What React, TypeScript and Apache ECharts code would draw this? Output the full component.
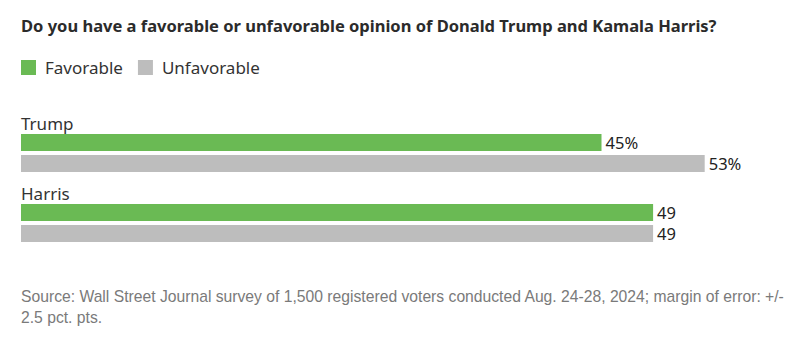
import React, { useEffect, useRef } from "react";
import * as echarts from "echarts";

const candidates = ["Trump", "Harris"];
const favorable = [45, 49];
const unfavorable = [53, 49];
const seriesNames = ["Favorable", "Unfavorable"];
const titleText = "Do you have a favorable or unfavorable opinion of Donald Trump and Kamala Harris?";
const sourceText =
  "Source: Wall Street Journal survey of 1,500 registered voters conducted Aug. 24-28, 2024; margin of error: +/-\n2.5 pct. pts.";

const FONT = "'Noto Sans', sans-serif";

export default function App() {
  const ref = useRef<HTMLDivElement>(null);
  useEffect(() => {
    if (!ref.current) return;
    const chart = echarts.init(ref.current, null, { renderer: "svg" });
    const labelFmt = (p: any) => (p.dataIndex === 0 ? p.value + "%" : String(p.value));
    chart.setOption({
      animation: false,
      backgroundColor: "#ffffff",
      title: [
        {
          text: titleText,
          left: 21,
          top: 17,
          padding: 0,
          textStyle: { fontFamily: FONT, fontWeight: "bold", fontSize: 16.5, color: "#2b2b2b" },
        },
        {
          text: sourceText,
          left: 21,
          top: 286,
          padding: 0,
          textStyle: {
            fontFamily: "'Liberation Sans', Arial, sans-serif",
            fontWeight: "normal",
            fontSize: 15.7,
            lineHeight: 21,
            color: "#7a7a7a",
          },
        },
      ],
      legend: {
        left: 21,
        top: 59,
        padding: 0,
        itemWidth: 15,
        itemHeight: 15,
        itemGap: 15,
        icon: "rect",
        textStyle: { fontFamily: FONT, fontSize: 17, color: "#333", padding: [0, 0, 0, 4] },
        data: seriesNames,
      },
      grid: { left: 21, right: 4, top: 118, height: 140, containLabel: false },
      xAxis: {
        type: "value",
        min: 0,
        max: 60,
        show: false,
      },
      yAxis: {
        type: "category",
        inverse: true,
        data: candidates,
        axisLine: { show: false },
        axisTick: { show: false },
        axisLabel: {
          inside: true,
          interval: 0,
          hideOverlap: false,
          margin: 0,
          fontFamily: FONT,
          fontSize: 17,
          lineHeight: 19.5,
          color: "#333",
          formatter: (v: string) => v + "\n \n \n ",
        },
      },
      series: [
        {
          name: seriesNames[0],
          type: "bar",
          data: favorable,
          barWidth: 17,
          barGap: "24%",
          itemStyle: { color: "#6aba54" },
          label: {
            show: true,
            position: "right",
            distance: 4,
            formatter: labelFmt,
            fontFamily: FONT,
            fontSize: 16.5,
            color: "#222",
          },
        },
        {
          name: seriesNames[1],
          type: "bar",
          data: unfavorable,
          barWidth: 17,
          itemStyle: { color: "#bdbdbd" },
          label: {
            show: true,
            position: "right",
            distance: 4,
            formatter: labelFmt,
            fontFamily: FONT,
            fontSize: 16.5,
            color: "#222",
          },
        },
      ],
    });
    return () => chart.dispose();
  }, []);
  return (
    <div
      ref={ref}
      style={{ position: "fixed", left: 0, top: 0, width: 799, height: 339, background: "#fff" }}
    />
  );
}
